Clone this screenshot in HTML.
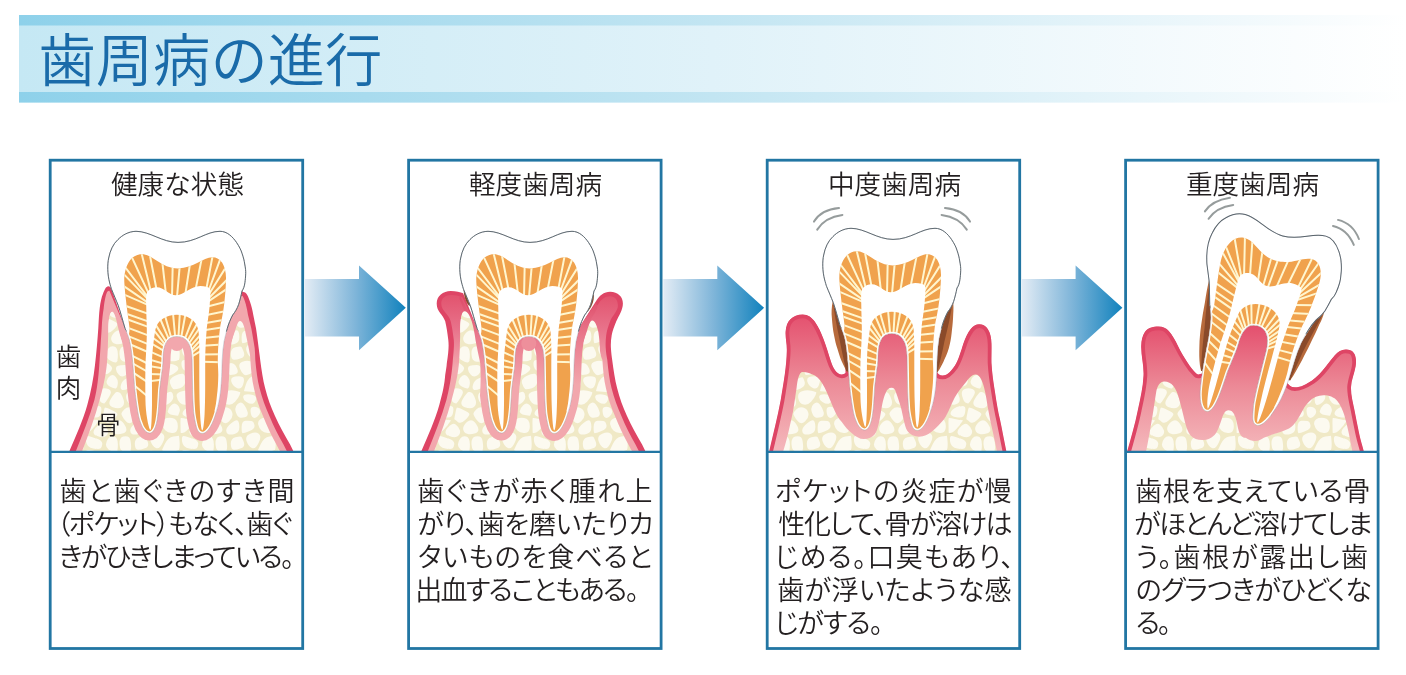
<!DOCTYPE html>
<html lang="ja"><head><meta charset="utf-8"><title>歯周病の進行</title>
<style>
html,body{margin:0;padding:0;background:#fff;}
body{width:1406px;height:675px;position:relative;overflow:hidden;font-family:"Liberation Sans", "Noto Sans CJK JP", sans-serif;}
</style></head><body>
<svg width="1406" height="675" viewBox="0 0 1406 675" style="position:absolute;left:0;top:0;will-change:transform">
<style>.t{font-family:"Liberation Sans","Noto Sans CJK JP",sans-serif;font-weight:350;fill:#231f20} .p{font-feature-settings:'palt'}</style>
<defs>
<linearGradient id="bn" x1="0" x2="1" y1="0" y2="0">
 <stop offset="0" stop-color="#c5e8f4"/><stop offset="0.5" stop-color="#e0f2f9"/><stop offset="1" stop-color="#ffffff"/>
</linearGradient>
<linearGradient id="bd" x1="0" x2="1" y1="0" y2="0">
 <stop offset="0" stop-color="#8ed1ea"/><stop offset="0.5" stop-color="#c2e5f2"/><stop offset="1" stop-color="#ffffff"/>
</linearGradient>
<linearGradient id="ar" x1="0" x2="1" y1="0" y2="0">
 <stop offset="0" stop-color="#e3ecf5"/><stop offset="0.5" stop-color="#7fb5d9"/><stop offset="1" stop-color="#1182bd"/>
</linearGradient>
<linearGradient id="g2" gradientUnits="userSpaceOnUse" x1="0" x2="0" y1="296" y2="368">
 <stop offset="0" stop-color="#e2546f"/><stop offset="0.45" stop-color="#e8728a"/><stop offset="1" stop-color="#f2a7ad"/></linearGradient>
<linearGradient id="g2p" gradientUnits="userSpaceOnUse" x1="0" x2="0" y1="296" y2="385">
 <stop offset="0" stop-color="#de4a68"/><stop offset="0.45" stop-color="#e9788c"/><stop offset="1" stop-color="#f2a7ad"/></linearGradient>
<linearGradient id="g3" gradientUnits="userSpaceOnUse" x1="0" x2="0" y1="314" y2="448">
 <stop offset="0" stop-color="#e4506e"/><stop offset="0.5" stop-color="#ec8a97"/><stop offset="1" stop-color="#f4b6ba"/></linearGradient>
<linearGradient id="g4" gradientUnits="userSpaceOnUse" x1="0" x2="0" y1="326" y2="448">
 <stop offset="0" stop-color="#e4506e"/><stop offset="0.5" stop-color="#ec8a97"/><stop offset="1" stop-color="#f4b6ba"/></linearGradient>
<clipPath id="ccrown"><path d="M90 220 H260 V300 L226 332 H127 L100 296 Z"/></clipPath>
<clipPath id="ct"><path d="M109.7 283 C107.3 274 107.3 264 108.7 258 C110 251 113 244 118 239.5 C122 235.5 128 231.5 136 231.3 C150 231.3 162 242.4 178 242.4 C196 242.4 206 231.3 220 231.3 C227 231.3 232.5 236.5 236.7 242.7 C239.5 247 241 250 242 253.3 C243.5 257.5 244.3 261 244.7 264 C245.5 268 245.8 271 245.7 273.3 C245.6 277 245.3 280 244.9 282.7 C244.5 286 243.5 289 242 291 C241 296 240 300 238.7 304.3 C237 309 235 312 232.7 315 C230.5 319 228.5 324 227.3 328.3 C226 333 225 337 224 341.7 C223 348 222.4 354 222.2 360 C221.8 372 221.5 382 220.7 389.4 C219.8 398 218.5 405 216.3 411.7 C214.5 418 212.5 423 210.4 426.5 C208 430.5 205.5 433.4 202.2 433.4 C199 433.4 197.3 430.5 196.3 426.5 C195 421 194 416 193.6 411.7 C193 404 192.7 396 192.6 389.4 C192.4 380 192.2 370 192.1 360 C192 345 187 336.4 176.8 336.4 C166.5 336.4 163 345 163 360 C162.8 366 162.2 370 161.5 374.6 C160.8 380 160.2 385 159.7 389.4 C159.2 397 158.9 405 158.2 411.7 C157.6 418 156.8 423 155.5 426.5 C154 430.5 152.5 433 149.6 433 C146.5 433 144 430 142.2 426.5 C140 422 138.6 417 137.8 411.7 C136.5 404 135.5 396 134.8 389.4 C134 380 133.3 370 132.5 360 C132 355 131.3 350 130.5 345 C129.3 338 127 333 125 328.3 C122.5 320 120.5 312 118.3 305.7 C116 300 113.5 294 111.7 289.7 C111 288 110.3 285 109.7 283 Z"/></clipPath>
<clipPath id="ce"><path d="M124.3 282 C124 266 131 254.3 141.8 254.3 C153 254.3 161 268.4 178 268.4 C194 268.4 203 257.3 212.3 257.3 C221 257.3 226.5 266 226 280 C225.7 290 225 297 224.2 304 C223 314 221.3 321 220 328 C218.5 340 217.8 350 217.8 361 C217.9 366 218.3 370 218.3 375 C218.2 383 217.7 390 217 395 C216.3 402 215.5 407 214.5 411 L235 440 L115 440 L115 352 C126 347 129.8 336 129.5 328 C128 315 125 296 124.3 282 Z"/></clipPath>
<clipPath id="cg1"><path d="M60 452 L108 291 L125 328 L227 328 L242 296 L300 452 Z"/></clipPath>
<pattern id="bone" width="96" height="90" patternUnits="userSpaceOnUse">
<rect width="96" height="90" fill="#f0e9c6"/>
<path d="M-9.4 -8.2Q-10.4 -13.8 -8.1 -13.6Q-5.8 -13.5 0.3 -11.4Q6.4 -9.4 6.2 -5.7Q6.0 -2.0 4.7 -1.2Q3.3 -0.4 -2.6 -1.5Q-8.5 -2.7 -9.4 -8.2ZM-10.4 6.1Q-11.7 3.3 -10.3 1.6Q-8.9 -0.2 -3.1 0.7Q2.7 1.6 1.0 5.3Q-0.7 9.1 -3.0 10.8Q-5.3 12.5 -7.2 10.7Q-9.1 8.9 -10.4 6.1ZM-21.8 23.3Q-23.6 19.1 -17.5 15.7Q-11.4 12.3 -9.3 13.7Q-7.2 15.1 -7.1 20.5Q-7.1 25.9 -12.2 27.9Q-17.4 29.9 -18.7 28.7Q-20.1 27.5 -21.8 23.3ZM-15.9 36.2Q-16.4 32.7 -11.0 31.0Q-5.7 29.4 -3.9 30.3Q-2.2 31.2 -0.5 37.0Q1.2 42.7 -4.1 44.8Q-9.5 46.9 -12.4 43.3Q-15.4 39.6 -15.9 36.2ZM-8.8 52.7Q-7.9 49.5 -3.2 47.6Q1.6 45.6 3.9 46.3Q6.3 46.9 5.0 52.9Q3.8 58.8 -2.9 57.3Q-9.6 55.9 -8.8 52.7ZM-11.4 65.6Q-11.3 58.7 -10.9 58.2Q-10.6 57.8 -3.7 59.1Q3.3 60.4 3.1 60.6Q3.0 60.8 -1.5 66.3Q-6.0 71.9 -8.5 72.4Q-10.9 72.9 -11.2 72.7Q-11.5 72.6 -11.4 65.6ZM-10.2 81.5Q-11.2 75.4 -8.5 75.9Q-5.8 76.5 0.5 78.5Q6.7 80.5 6.3 84.2Q5.8 87.9 4.4 88.6Q3.0 89.3 -3.1 88.5Q-9.2 87.7 -10.2 81.5ZM-10.2 96.4Q-10.9 93.4 -9.8 91.7Q-8.7 90.0 -2.9 90.8Q2.9 91.5 1.1 95.3Q-0.7 99.1 -3.0 100.8Q-5.3 102.4 -7.4 100.9Q-9.5 99.3 -10.2 96.4ZM9.6 -5.7Q9.3 -9.4 12.1 -11.4Q15.0 -13.4 18.4 -12.9Q21.8 -12.3 22.0 -5.4Q22.3 1.5 20.3 2.2Q18.4 3.0 14.2 0.5Q9.9 -2.0 9.6 -5.7ZM23.9 -5.1Q23.7 -11.7 27.6 -13.2Q31.5 -14.7 33.3 -13.1Q35.1 -11.5 35.4 -6.0Q35.8 -0.6 34.5 0.8Q33.2 2.1 28.7 1.8Q24.1 1.5 23.9 -5.1ZM38.8 -6.3Q38.1 -11.8 43.2 -13.0Q48.3 -14.2 49.3 -13.5Q50.3 -12.9 51.9 -8.1Q53.4 -3.3 49.1 -1.8Q44.7 -0.4 42.1 -0.6Q39.4 -0.8 38.8 -6.3ZM54.8 -9.0Q53.0 -13.8 58.5 -16.5Q63.9 -19.2 67.0 -16.6Q70.0 -14.0 66.8 -7.1Q63.6 -0.1 60.1 -2.2Q56.6 -4.2 54.8 -9.0ZM69.4 -5.8Q72.5 -12.2 77.5 -13.3Q82.5 -14.4 82.6 -14.0Q82.8 -13.6 83.0 -7.9Q83.2 -2.2 82.3 -0.3Q81.4 1.5 73.9 1.2Q66.3 0.9 66.3 0.8Q66.3 0.6 69.4 -5.8ZM86.3 -8.5Q85.1 -14.3 87.6 -14.0Q90.1 -13.8 96.3 -11.6Q102.4 -9.4 102.1 -5.7Q101.8 -2.1 100.5 -1.3Q99.1 -0.6 93.3 -1.6Q87.4 -2.6 86.3 -8.5ZM4.2 6.5Q5.6 2.3 6.8 1.7Q8.0 1.1 12.2 3.8Q16.4 6.5 16.1 8.8Q15.8 11.2 12.6 13.3Q9.4 15.5 6.0 13.1Q2.7 10.7 4.2 6.5ZM19.9 9.1Q19.7 6.6 22.0 5.8Q24.2 5.0 28.6 5.0Q33.0 4.9 32.7 9.4Q32.3 13.9 28.7 15.8Q25.0 17.7 22.6 14.6Q20.1 11.6 19.9 9.1ZM36.1 9.3Q35.6 4.8 37.1 3.6Q38.6 2.5 41.0 3.4Q43.5 4.3 45.3 8.9Q47.1 13.6 42.5 14.5Q37.8 15.4 37.2 14.6Q36.7 13.9 36.1 9.3ZM47.8 8.3Q45.9 3.4 50.4 1.7Q54.8 -0.1 58.4 1.2Q61.9 2.5 61.9 2.6Q62.0 2.7 61.9 7.4Q61.8 12.2 57.9 14.1Q54.0 16.0 51.8 14.6Q49.7 13.2 47.8 8.3ZM66.0 7.6Q66.3 2.9 73.6 3.8Q81.0 4.8 82.1 7.5Q83.3 10.3 77.6 13.7Q72.0 17.1 68.8 14.7Q65.7 12.3 66.0 7.6ZM85.8 6.4Q85.1 3.4 85.8 1.4Q86.5 -0.7 92.6 0.4Q98.7 1.6 97.1 5.5Q95.5 9.4 93.1 10.5Q90.8 11.7 88.6 10.5Q86.5 9.3 85.8 6.4ZM10.6 21.2Q11.3 17.8 14.3 15.8Q17.3 13.9 19.8 16.9Q22.3 19.9 21.8 23.8Q21.4 27.8 19.9 28.4Q18.4 29.0 14.2 26.8Q10.0 24.6 10.6 21.2ZM25.0 24.7Q26.1 20.5 30.0 18.7Q34.0 17.0 34.8 17.4Q35.7 17.9 36.7 22.0Q37.6 26.1 32.7 28.4Q27.7 30.7 25.8 29.8Q23.8 28.8 25.0 24.7ZM39.3 21.5Q38.3 17.4 43.2 16.6Q48.1 15.7 50.6 17.0Q53.1 18.2 51.2 24.2Q49.2 30.2 44.8 27.9Q40.4 25.6 39.3 21.5ZM53.7 24.9Q55.5 19.1 59.4 16.8Q63.4 14.6 66.6 17.2Q69.9 19.9 71.2 24.4Q72.5 29.0 68.8 30.7Q65.0 32.3 58.6 31.8Q52.1 31.3 52.0 31.0Q51.9 30.6 53.7 24.9ZM74.1 23.6Q72.6 19.1 78.5 16.1Q84.4 13.0 86.9 13.8Q89.5 14.6 89.4 20.5Q89.4 26.4 84.0 28.2Q78.6 30.0 77.1 29.0Q75.5 28.0 74.1 23.6ZM-4.3 20.7Q-4.3 14.7 -1.5 14.0Q1.3 13.3 4.5 15.4Q7.8 17.4 7.8 21.0Q7.9 24.6 3.7 26.2Q-0.5 27.9 -2.4 27.3Q-4.3 26.7 -4.3 20.7ZM2.2 36.2Q0.6 30.6 4.7 28.9Q8.9 27.3 12.9 29.2Q16.9 31.1 13.0 37.1Q9.1 43.2 8.4 43.4Q7.8 43.7 5.8 42.7Q3.7 41.7 2.2 36.2ZM14.9 38.7Q18.9 32.6 20.5 32.1Q22.1 31.6 23.8 32.7Q25.5 33.8 27.4 39.2Q29.3 44.5 26.0 47.0Q22.8 49.5 16.8 47.2Q10.9 44.8 14.9 38.7ZM30.3 38.4Q29.1 33.1 34.0 31.3Q38.8 29.6 43.4 30.8Q47.9 32.0 48.2 32.3Q48.6 32.7 47.4 35.5Q46.3 38.3 43.1 41.8Q40.0 45.3 35.7 44.6Q31.5 43.8 30.3 38.4ZM54.4 41.9Q50.6 39.4 51.2 36.5Q51.9 33.7 58.4 34.4Q64.9 35.1 64.1 39.1Q63.3 43.0 60.7 43.7Q58.1 44.4 54.4 41.9ZM66.6 39.5Q66.7 35.5 70.2 33.4Q73.7 31.2 75.4 32.0Q77.0 32.8 77.3 36.4Q77.5 40.1 73.7 43.0Q69.8 46.0 68.2 44.7Q66.6 43.4 66.6 39.5ZM80.6 36.3Q80.1 33.0 85.1 31.6Q90.2 30.1 91.9 30.8Q93.6 31.5 95.3 37.1Q97.1 42.6 92.0 44.2Q86.8 45.8 83.9 42.7Q81.1 39.6 80.6 36.3ZM7.3 53.4Q8.4 47.6 9.0 47.5Q9.7 47.3 15.5 49.9Q21.3 52.5 21.4 54.1Q21.6 55.8 17.2 60.1Q12.8 64.5 9.8 61.9Q6.7 59.3 6.4 59.2Q6.1 59.2 7.3 53.4ZM29.2 60.6Q25.6 55.8 25.4 54.0Q25.2 52.3 28.2 49.4Q31.1 46.6 35.1 47.6Q39.1 48.5 40.3 52.8Q41.5 57.1 37.2 61.3Q32.8 65.5 29.2 60.6ZM43.7 51.7Q42.2 47.3 45.6 44.0Q49.0 40.7 51.9 44.4Q54.8 48.0 55.7 52.2Q56.5 56.5 52.8 57.3Q49.1 58.2 47.1 57.2Q45.1 56.2 43.7 51.7ZM58.6 51.7Q58.1 47.1 61.0 46.9Q64.0 46.7 66.0 47.7Q68.0 48.8 68.2 51.4Q68.4 53.9 65.8 56.3Q63.1 58.7 61.1 57.5Q59.0 56.3 58.6 51.7ZM71.7 51.2Q71.8 48.6 75.2 45.3Q78.5 41.9 81.6 45.1Q84.8 48.3 83.6 51.7Q82.4 55.0 82.2 55.6Q82.1 56.2 76.8 55.0Q71.5 53.7 71.7 51.2ZM86.6 52.7Q87.7 49.2 92.8 47.0Q98.0 44.8 99.9 46.0Q101.9 47.2 100.7 52.8Q99.4 58.4 92.5 57.3Q85.6 56.1 86.6 52.7ZM-0.2 67.8Q4.5 62.3 7.7 64.5Q10.8 66.8 11.9 70.3Q12.9 73.7 10.1 76.1Q7.3 78.4 1.2 75.9Q-4.9 73.3 -0.2 67.8ZM18.9 62.1Q23.3 58.1 26.8 62.3Q30.3 66.6 30.4 69.4Q30.6 72.3 26.5 73.5Q22.4 74.8 19.1 73.7Q15.8 72.7 15.2 69.4Q14.6 66.1 18.9 62.1ZM34.3 69.8Q34.7 66.9 39.2 63.2Q43.7 59.5 45.5 60.4Q47.3 61.4 47.4 67.1Q47.4 72.9 42.6 74.0Q37.9 75.2 35.8 73.9Q33.8 72.6 34.3 69.8ZM49.6 67.2Q49.7 61.2 53.4 60.8Q57.1 60.4 59.5 61.0Q61.9 61.6 62.5 65.3Q63.2 69.0 57.6 71.1Q52.0 73.3 50.8 73.3Q49.5 73.3 49.6 67.2ZM66.2 64.6Q65.5 61.3 68.2 59.2Q71.0 57.2 76.2 57.9Q81.5 58.6 81.8 65.7Q82.2 72.7 77.0 73.0Q71.9 73.4 69.4 70.6Q66.9 67.9 66.2 64.6ZM84.5 65.4Q84.3 58.4 84.9 58.1Q85.4 57.8 92.2 59.2Q98.9 60.5 99.0 60.6Q99.1 60.7 94.5 66.6Q89.8 72.5 87.3 72.8Q84.8 73.2 84.7 72.8Q84.6 72.4 84.5 65.4ZM9.9 84.5Q10.0 81.1 12.3 78.4Q14.6 75.6 18.2 76.6Q21.8 77.6 21.9 84.3Q22.0 91.1 20.2 92.2Q18.4 93.3 14.0 90.7Q9.7 88.0 9.9 84.5ZM23.5 84.5Q23.1 77.3 27.2 76.4Q31.4 75.6 33.0 77.3Q34.6 79.0 35.0 84.1Q35.5 89.3 34.2 90.6Q33.0 91.9 28.5 91.8Q24.0 91.8 23.5 84.5ZM38.8 84.0Q38.6 78.5 43.4 77.2Q48.3 75.9 49.2 76.7Q50.1 77.4 51.8 82.1Q53.5 86.7 49.0 88.3Q44.6 89.9 41.8 89.8Q38.9 89.6 38.8 84.0ZM54.6 81.2Q52.8 76.1 58.2 73.8Q63.6 71.4 66.8 73.7Q70.0 76.0 66.7 82.7Q63.5 89.5 59.9 87.9Q56.4 86.2 54.6 81.2ZM68.8 84.0Q72.1 77.0 77.2 76.4Q82.4 75.9 82.8 75.7Q83.2 75.6 83.6 81.8Q84.0 88.0 82.9 89.9Q81.7 91.8 73.6 91.5Q65.6 91.2 65.5 91.1Q65.5 91.0 68.8 84.0ZM86.1 81.7Q85.3 75.9 87.7 76.1Q90.2 76.3 95.9 78.6Q101.7 80.9 102.0 84.5Q102.2 88.1 100.8 88.9Q99.4 89.6 93.2 88.6Q87.0 87.6 86.1 81.7ZM4.3 96.7Q5.8 92.7 6.8 91.6Q7.9 90.5 12.0 93.6Q16.1 96.6 16.1 98.9Q16.1 101.2 12.7 103.3Q9.4 105.4 6.1 103.0Q2.9 100.7 4.3 96.7ZM19.8 99.0Q19.6 96.5 21.9 95.7Q24.1 95.0 28.6 95.0Q33.0 95.0 32.6 99.4Q32.2 103.9 28.6 105.8Q24.9 107.8 22.4 104.7Q19.9 101.6 19.8 99.0ZM35.7 99.5Q35.5 94.7 37.1 93.6Q38.6 92.4 41.1 93.0Q43.6 93.7 45.4 98.7Q47.2 103.7 42.6 104.4Q38.0 105.2 36.9 104.7Q35.8 104.2 35.7 99.5ZM47.5 98.1Q45.2 92.9 50.1 91.2Q55.0 89.6 58.6 91.0Q62.1 92.4 62.5 92.3Q62.9 92.3 62.2 97.2Q61.5 102.0 57.7 104.0Q53.9 105.9 51.8 104.6Q49.7 103.3 47.5 98.1ZM65.6 97.7Q66.1 92.8 74.0 93.4Q81.8 94.1 82.8 97.2Q83.7 100.4 77.8 103.8Q71.9 107.2 68.5 104.9Q65.1 102.5 65.6 97.7ZM86.0 96.2Q85.3 93.4 86.1 91.5Q86.8 89.6 93.1 90.5Q99.3 91.4 97.3 95.3Q95.3 99.1 93.0 100.8Q90.7 102.5 88.7 100.8Q86.7 99.1 86.0 96.2ZM99.8 6.4Q101.5 2.0 102.7 1.1Q103.8 0.1 108.0 3.4Q112.1 6.6 111.9 8.9Q111.7 11.1 108.5 13.2Q105.4 15.2 101.8 13.0Q98.1 10.8 99.8 6.4ZM92.3 20.9Q92.7 15.3 94.9 14.2Q97.2 13.1 100.2 15.4Q103.2 17.6 103.5 21.1Q103.8 24.5 99.6 26.2Q95.5 27.8 93.7 27.1Q91.9 26.4 92.3 20.9ZM97.9 36.2Q96.2 30.4 100.5 28.9Q104.9 27.3 108.9 29.2Q112.9 31.1 109.0 37.5Q105.0 44.0 104.4 44.1Q103.7 44.2 101.6 43.1Q99.5 42.0 97.9 36.2ZM103.7 53.5Q104.6 48.1 105.2 47.9Q105.8 47.7 111.6 50.1Q117.5 52.4 117.6 54.1Q117.7 55.7 113.3 59.7Q108.9 63.7 105.8 61.5Q102.7 59.3 102.7 59.1Q102.7 59.0 103.7 53.5ZM95.6 67.8Q100.6 62.1 103.6 64.4Q106.6 66.8 107.6 70.2Q108.5 73.5 106.0 76.1Q103.4 78.6 97.0 76.1Q90.6 73.6 95.6 67.8ZM99.8 96.5Q101.6 92.2 102.7 91.1Q103.8 90.0 108.0 93.3Q112.2 96.6 112.0 98.9Q111.9 101.2 108.6 102.8Q105.3 104.5 101.7 102.7Q98.0 100.8 99.8 96.5Z" fill="#fcfaf0"/>
</pattern>

<g id="tooth">
  <path d="M109.7 283 C107.3 274 107.3 264 108.7 258 C110 251 113 244 118 239.5 C122 235.5 128 231.5 136 231.3 C150 231.3 162 242.4 178 242.4 C196 242.4 206 231.3 220 231.3 C227 231.3 232.5 236.5 236.7 242.7 C239.5 247 241 250 242 253.3 C243.5 257.5 244.3 261 244.7 264 C245.5 268 245.8 271 245.7 273.3 C245.6 277 245.3 280 244.9 282.7 C244.5 286 243.5 289 242 291 C241 296 240 300 238.7 304.3 C237 309 235 312 232.7 315 C230.5 319 228.5 324 227.3 328.3 C226 333 225 337 224 341.7 C223 348 222.4 354 222.2 360 C221.8 372 221.5 382 220.7 389.4 C219.8 398 218.5 405 216.3 411.7 C214.5 418 212.5 423 210.4 426.5 C208 430.5 205.5 433.4 202.2 433.4 C199 433.4 197.3 430.5 196.3 426.5 C195 421 194 416 193.6 411.7 C193 404 192.7 396 192.6 389.4 C192.4 380 192.2 370 192.1 360 C192 345 187 336.4 176.8 336.4 C166.5 336.4 163 345 163 360 C162.8 366 162.2 370 161.5 374.6 C160.8 380 160.2 385 159.7 389.4 C159.2 397 158.9 405 158.2 411.7 C157.6 418 156.8 423 155.5 426.5 C154 430.5 152.5 433 149.6 433 C146.5 433 144 430 142.2 426.5 C140 422 138.6 417 137.8 411.7 C136.5 404 135.5 396 134.8 389.4 C134 380 133.3 370 132.5 360 C132 355 131.3 350 130.5 345 C129.3 338 127 333 125 328.3 C122.5 320 120.5 312 118.3 305.7 C116 300 113.5 294 111.7 289.7 C111 288 110.3 285 109.7 283 Z" fill="#fff"/>
  <g clip-path="url(#ct)">
    <g clip-path="url(#ce)">
      <rect x="100" y="240" width="150" height="200" fill="#f0a24d"/>
      <path d="M147.7 396.4L133.6 384.7M147.9 382.4L132.1 371.9M148.2 372.2L131.2 362.5M148.5 364.0L130.4 354.9M149.0 352.5L129.3 344.0M149.3 344.6L128.3 336.1M149.5 335.9L126.8 327.4M149.6 327.4L125.6 318.8M149.4 321.9L124.9 313.2M149.2 314.1L123.9 305.3M149.0 305.4L122.6 293.9M148.6 303.1L122.1 285.0M148.3 299.6L122.6 272.9M148.2 297.6L124.3 266.0M148.9 294.1L131.0 255.4M151.0 291.9L141.1 251.4M156.7 290.2L149.6 253.8M165.9 293.6L162.2 261.2M172.0 297.5L172.7 264.9M176.9 298.2L179.8 265.4M185.3 294.4L190.1 263.4M195.6 289.4L201.8 258.1M206.2 289.6L212.9 254.4M208.5 291.0L220.9 257.3M208.8 294.5L226.5 266.3M208.2 298.8L228.1 278.6M207.6 301.8L228.0 288.1M206.6 306.8L227.2 301.4M205.5 315.3L226.2 310.9M204.5 323.3L224.6 319.7M203.8 330.2L223.0 327.2M203.3 338.0L222.4 335.9M203.0 345.8L221.9 344.5M202.5 354.4L221.3 354.2M202.2 361.7L220.8 362.3M189.5 357.8L201.9 350.3M189.7 354.6L201.5 344.5M189.8 351.7L201.1 339.5M188.2 348.9L200.9 334.3M187.1 346.0L200.0 327.5M185.8 343.8L197.9 322.2M183.8 341.7L193.4 317.1M180.7 340.0L185.6 313.1M178.3 339.5L179.9 312.0M175.4 339.5L172.9 312.0M172.0 340.4L164.6 314.3M170.0 341.8L159.6 317.5M168.0 344.4L154.9 323.6M167.0 346.9L153.1 329.4M166.2 347.6L152.1 337.2M166.0 352.2L151.1 343.4M165.7 358.3L150.0 351.7M165.3 364.1L149.2 359.5M164.9 368.8L149.0 366.1M164.3 374.5L149.0 373.9M163.6 379.6L149.0 381.2" fill="none" stroke="#fff6cf" stroke-width="2"/>
    </g>
    <path d="M146.2 304 C146 297 146.3 292.5 148 291 C150 288.5 153 287.2 156.7 287.2 C164 287.2 169 295.3 175.8 295.3 C183 295.3 191 285.9 200.3 285.9 C205 285.9 208.5 286.8 209.8 288.5 C211 290.5 210.2 297 209.8 304 C209 314 207.5 322 206.8 328 C205.8 340 205.3 350 205.2 361 C205.2 380 205.4 400 204.6 414 C204.2 422 203.3 430.5 202.3 430.5 C201.2 430.5 200.2 420 199.7 405 C199.3 390 199.3 372 199.3 361 C199.5 350 199.3 338 198.4 330.4 C196.5 320 187 314.8 176.8 314.8 C166.5 314.8 157 320 155.2 330.4 C153.8 340 152.3 350 152 361 C151.8 380 152.2 395 152 405 C151.8 418 151.3 430 150.4 430 C149.3 430 146.3 418 145.6 405 C145.2 390 145.2 372 145.6 361 C146.3 350 147 338 146.8 328 C146.5 320 146.3 312 146.2 304 Z" fill="#fff"/>
    <path d="M109.7 283 C107.3 274 107.3 264 108.7 258 C110 251 113 244 118 239.5 C122 235.5 128 231.5 136 231.3 C150 231.3 162 242.4 178 242.4 C196 242.4 206 231.3 220 231.3 C227 231.3 232.5 236.5 236.7 242.7 C239.5 247 241 250 242 253.3 C243.5 257.5 244.3 261 244.7 264 C245.5 268 245.8 271 245.7 273.3 C245.6 277 245.3 280 244.9 282.7 C244.5 286 243.5 289 242 291 C241 296 240 300 238.7 304.3 C237 309 235 312 232.7 315 C230.5 319 228.5 324 227.3 328.3 C226 333 225 337 224 341.7 C223 348 222.4 354 222.2 360 C221.8 372 221.5 382 220.7 389.4 C219.8 398 218.5 405 216.3 411.7 C214.5 418 212.5 423 210.4 426.5 C208 430.5 205.5 433.4 202.2 433.4 C199 433.4 197.3 430.5 196.3 426.5 C195 421 194 416 193.6 411.7 C193 404 192.7 396 192.6 389.4 C192.4 380 192.2 370 192.1 360 C192 345 187 336.4 176.8 336.4 C166.5 336.4 163 345 163 360 C162.8 366 162.2 370 161.5 374.6 C160.8 380 160.2 385 159.7 389.4 C159.2 397 158.9 405 158.2 411.7 C157.6 418 156.8 423 155.5 426.5 C154 430.5 152.5 433 149.6 433 C146.5 433 144 430 142.2 426.5 C140 422 138.6 417 137.8 411.7 C136.5 404 135.5 396 134.8 389.4 C134 380 133.3 370 132.5 360 C132 355 131.3 350 130.5 345 C129.3 338 127 333 125 328.3 C122.5 320 120.5 312 118.3 305.7 C116 300 113.5 294 111.7 289.7 C111 288 110.3 285 109.7 283 Z" fill="none" stroke="#fff" stroke-width="3.2"/>
  </g>
  <path d="M109.7 283 C107.3 274 107.3 264 108.7 258 C110 251 113 244 118 239.5 C122 235.5 128 231.5 136 231.3 C150 231.3 162 242.4 178 242.4 C196 242.4 206 231.3 220 231.3 C227 231.3 232.5 236.5 236.7 242.7 C239.5 247 241 250 242 253.3 C243.5 257.5 244.3 261 244.7 264 C245.5 268 245.8 271 245.7 273.3 C245.6 277 245.3 280 244.9 282.7 C244.5 286 243.5 289 242 291 C241 296 240 300 238.7 304.3 C237 309 235 312 232.7 315 C230.5 319 228.5 324 227.3 328.3 C226 333 225 337 224 341.7 C223 348 222.4 354 222.2 360 C221.8 372 221.5 382 220.7 389.4 C219.8 398 218.5 405 216.3 411.7 C214.5 418 212.5 423 210.4 426.5 C208 430.5 205.5 433.4 202.2 433.4 C199 433.4 197.3 430.5 196.3 426.5 C195 421 194 416 193.6 411.7 C193 404 192.7 396 192.6 389.4 C192.4 380 192.2 370 192.1 360 C192 345 187 336.4 176.8 336.4 C166.5 336.4 163 345 163 360 C162.8 366 162.2 370 161.5 374.6 C160.8 380 160.2 385 159.7 389.4 C159.2 397 158.9 405 158.2 411.7 C157.6 418 156.8 423 155.5 426.5 C154 430.5 152.5 433 149.6 433 C146.5 433 144 430 142.2 426.5 C140 422 138.6 417 137.8 411.7 C136.5 404 135.5 396 134.8 389.4 C134 380 133.3 370 132.5 360 C132 355 131.3 350 130.5 345 C129.3 338 127 333 125 328.3 C122.5 320 120.5 312 118.3 305.7 C116 300 113.5 294 111.7 289.7 C111 288 110.3 285 109.7 283 Z" fill="none" stroke="#8d8f9c" stroke-opacity="0.45" stroke-width="0.8"/>
  <path d="M109.7 283 C107.3 274 107.3 264 108.7 258 C110 251 113 244 118 239.5 C122 235.5 128 231.5 136 231.3 C150 231.3 162 242.4 178 242.4 C196 242.4 206 231.3 220 231.3 C227 231.3 232.5 236.5 236.7 242.7 C239.5 247 241 250 242 253.3 C243.5 257.5 244.3 261 244.7 264 C245.5 268 245.8 271 245.7 273.3 C245.6 277 245.3 280 244.9 282.7 C244.5 286 243.5 289 242 291 C241 296 240 300 238.7 304.3 C237 309 235 312 232.7 315 C230.5 319 228.5 324 227.3 328.3 C226 333 225 337 224 341.7 C223 348 222.4 354 222.2 360 C221.8 372 221.5 382 220.7 389.4 C219.8 398 218.5 405 216.3 411.7 C214.5 418 212.5 423 210.4 426.5 C208 430.5 205.5 433.4 202.2 433.4 C199 433.4 197.3 430.5 196.3 426.5 C195 421 194 416 193.6 411.7 C193 404 192.7 396 192.6 389.4 C192.4 380 192.2 370 192.1 360 C192 345 187 336.4 176.8 336.4 C166.5 336.4 163 345 163 360 C162.8 366 162.2 370 161.5 374.6 C160.8 380 160.2 385 159.7 389.4 C159.2 397 158.9 405 158.2 411.7 C157.6 418 156.8 423 155.5 426.5 C154 430.5 152.5 433 149.6 433 C146.5 433 144 430 142.2 426.5 C140 422 138.6 417 137.8 411.7 C136.5 404 135.5 396 134.8 389.4 C134 380 133.3 370 132.5 360 C132 355 131.3 350 130.5 345 C129.3 338 127 333 125 328.3 C122.5 320 120.5 312 118.3 305.7 C116 300 113.5 294 111.7 289.7 C111 288 110.3 285 109.7 283 Z" fill="none" stroke="#59646c" stroke-width="0.95" clip-path="url(#ccrown)"/>
</g>
<path id="arrow" d="M305 279 H359 V265.5 L405.8 307.8 L359 350.2 V336.5 H305 Z" fill="url(#ar)"/>
</defs>
<rect width="1406" height="675" fill="#fff"/>
<rect x="19" y="15" width="1387" height="87.5" fill="url(#bn)"/>
<rect x="19" y="15" width="1387" height="10.5" fill="url(#bd)"/>
<rect x="19" y="92" width="1387" height="10.5" fill="url(#bd)"/>
<text x="38.5" y="81.3" font-family='"Liberation Sans", "Noto Sans CJK JP", sans-serif' font-size="57.3" font-weight="350" fill="#1a6ba9">歯周病の進行</text>


<path d="M69 452 C76 436 83 420 87.3 405 C91 392 93.5 378 95 365 C96.5 352 97.5 340 98.3 328.3 C98.8 320 99 314 99.7 308.3 C100.5 302 101.5 297 103 293.7 C104.5 290 106 286.3 108.3 286.3 C110 286.3 111 288 111.7 289.7 L125 328 L227 328 L242 291 C242.5 291.5 243 292 243.3 292 C246.5 292 248.5 297 250 301.7 C251.5 306 252.5 310 253.3 315 C254.3 320 255.2 324 256 328.3 C257 335 258 342 258.7 348.3 C259.3 353 259.9 357 260.2 360 C261.5 370 263 380 265.1 388 C267.5 398 271 407 275 416 C279.5 426 285 436 290.1 444.5 L293.8 452 Z" fill="#de4565"/>
<path d="M75.5 452 C82.5 435 89.5 417 94.4 400 C97 390 98.5 377 99.3 365 C99.8 358 100.3 350 100.6 345 C101 339 101.4 333 101.7 328.3 C102 320 102.8 314 103.7 308.3 C104.3 303 105.3 296 107 292.3 C107.8 291 108.8 290.5 109.5 291 L125 328 L227 328 L241.5 295.5 C242 295.5 242.5 296 242.7 296.3 C245 300 247 308 248 315 C249.3 320 250.3 324 251.3 328.3 C252.5 335 253.8 342 254.7 348.3 C255 352 255.2 356 255.3 360 C256.2 370 257.5 380 259.5 388 C262 398 265.5 407 269.4 416 C273.5 426 278.5 436 283.5 444.5 L287.3 452 Z" fill="#f2a7ad"/>
<path d="M81.8 452 C88.5 435 95 417 99.6 400 C102.5 390 105.5 377 106.8 365 C107.3 358 107.7 352 107.9 345 C108.1 339 108.2 333 108.3 328 C108.5 320 109.5 311.7 112.3 311.7 C115 311.7 117 318 119 326 L125 345 L230 345 L235 331 C236.5 326 238 321 240 321 C243 321 244.8 328 246 335 C247.5 342 249 349 250 355 C250.2 357 250.3 358.5 250.4 360 C251 370 252 380 253.9 388 C256 398 259 407 263 416 C267 426 271.5 436 276.4 444.5 L280.3 452 Z" fill="url(#bone)"/>
<g clip-path="url(#cg1)"><path d="M109.7 283 C107.3 274 107.3 264 108.7 258 C110 251 113 244 118 239.5 C122 235.5 128 231.5 136 231.3 C150 231.3 162 242.4 178 242.4 C196 242.4 206 231.3 220 231.3 C227 231.3 232.5 236.5 236.7 242.7 C239.5 247 241 250 242 253.3 C243.5 257.5 244.3 261 244.7 264 C245.5 268 245.8 271 245.7 273.3 C245.6 277 245.3 280 244.9 282.7 C244.5 286 243.5 289 242 291 C241 296 240 300 238.7 304.3 C237 309 235 312 232.7 315 C230.5 319 228.5 324 227.3 328.3 C226 333 225 337 224 341.7 C223 348 222.4 354 222.2 360 C221.8 372 221.5 382 220.7 389.4 C219.8 398 218.5 405 216.3 411.7 C214.5 418 212.5 423 210.4 426.5 C208 430.5 205.5 433.4 202.2 433.4 C199 433.4 197.3 430.5 196.3 426.5 C195 421 194 416 193.6 411.7 C193 404 192.7 396 192.6 389.4 C192.4 380 192.2 370 192.1 360 C192 345 187 336.4 176.8 336.4 C166.5 336.4 163 345 163 360 C162.8 366 162.2 370 161.5 374.6 C160.8 380 160.2 385 159.7 389.4 C159.2 397 158.9 405 158.2 411.7 C157.6 418 156.8 423 155.5 426.5 C154 430.5 152.5 433 149.6 433 C146.5 433 144 430 142.2 426.5 C140 422 138.6 417 137.8 411.7 C136.5 404 135.5 396 134.8 389.4 C134 380 133.3 370 132.5 360 C132 355 131.3 350 130.5 345 C129.3 338 127 333 125 328.3 C122.5 320 120.5 312 118.3 305.7 C116 300 113.5 294 111.7 289.7 C111 288 110.3 285 109.7 283 Z" fill="none" stroke="#f2a7ad" stroke-width="15" stroke-linejoin="round"/>
<ellipse cx="176.8" cy="343.5" rx="7.5" ry="7.5" fill="#f2a7ad"/></g>
<path d="M108.5 330 C108.5 320 109.5 311.7 112.3 311.7 C114.5 311.7 116.5 320 118.3 328.3 C119.5 333 120.5 337 121.2 340 C122.2 345 123 350 123.7 355 L124.5 362 L112 362 Z" fill="url(#bone)"/>

<use href="#tooth"/>

<g transform="translate(352,0)">
<path d="M69 452 C76 436 83 420 87.3 405 C91 392 92.5 384 93.2 375 C94 370 94.6 367 94.8 363.3 C96.5 352 97 346 96.3 340 C95.5 333 94.5 327 93.2 321.3 C91 314 84.7 312 84.7 303.4 C84.7 296 91 291 98.7 291 C104 291 108.5 292 111.1 293.3 L125 328 L227 328 L244.1 301.1 C247 296 252 291.8 258.1 291.8 C266 291.8 270.9 297 270.9 303.4 C270.9 310 266.5 316 264.3 321.3 C262 327 260.5 331 259.7 335.3 C258.9 340 258.7 344 258.9 347.8 C259.2 353 259.8 357 260.2 360 C261.5 370 263 380 265.1 388 C267.5 398 271 407 275 416 C279.5 426 285 436 290.1 444.5 L293.8 452 Z" fill="#de4565"/>
<path d="M75.5 452 C82.5 435 89.5 417 94.4 400 C97 390 99.5 377 100.6 363.3 C101.5 352 102.3 346 101.8 340 C101 333 100 327 98.7 321.3 C97 314 89.3 311 89.3 303.4 C89.3 298 94 295 99 295 C104 295 108 296 110.5 297.5 L125 328 L227 328 L246 304.5 C249 299.5 253 296.3 258 296.3 C263 296.3 265.9 300 265.9 305.8 C265.9 311 260 316 258.1 321.3 C256 327 254.8 331 254.2 335.3 C253.6 340 253.5 344 253.7 347.8 C254 353 254.8 357 255.3 360 C256.2 370 257.5 380 259.5 388 C262 398 265.5 407 269.4 416 C273.5 426 278.5 436 283.5 444.5 L287.3 452 Z" fill="url(#g2)"/>
<path d="M81.8 452 C88.5 435 95 417 99.6 400 C102.5 390 105.5 377 106.8 365 C107.3 358 107.7 352 107.9 345 C108.1 339 108.2 333 108.2 328 C108.3 320 109.5 311.2 112.7 311.2 C115.5 311.2 117.5 318 119.5 326 L125 345 L230 345 L235 331 C236.5 326 238 320.5 240.2 320.5 C243 320.5 245 326 246.4 332.2 C247.3 338 247.8 345 248 351 C248.5 355 249.5 358 250.4 360 C251 370 252 380 253.9 388 C256 398 259 407 263 416 C267 426 271.5 436 276.4 444.5 L280.3 452 Z" fill="url(#bone)"/>
<clipPath id="cg2"><path d="M60 452 L108 296 L125 328 L227 328 L244 303 L300 452 Z"/></clipPath>
<g clip-path="url(#cg2)"><path d="M109.7 283 C107.3 274 107.3 264 108.7 258 C110 251 113 244 118 239.5 C122 235.5 128 231.5 136 231.3 C150 231.3 162 242.4 178 242.4 C196 242.4 206 231.3 220 231.3 C227 231.3 232.5 236.5 236.7 242.7 C239.5 247 241 250 242 253.3 C243.5 257.5 244.3 261 244.7 264 C245.5 268 245.8 271 245.7 273.3 C245.6 277 245.3 280 244.9 282.7 C244.5 286 243.5 289 242 291 C241 296 240 300 238.7 304.3 C237 309 235 312 232.7 315 C230.5 319 228.5 324 227.3 328.3 C226 333 225 337 224 341.7 C223 348 222.4 354 222.2 360 C221.8 372 221.5 382 220.7 389.4 C219.8 398 218.5 405 216.3 411.7 C214.5 418 212.5 423 210.4 426.5 C208 430.5 205.5 433.4 202.2 433.4 C199 433.4 197.3 430.5 196.3 426.5 C195 421 194 416 193.6 411.7 C193 404 192.7 396 192.6 389.4 C192.4 380 192.2 370 192.1 360 C192 345 187 336.4 176.8 336.4 C166.5 336.4 163 345 163 360 C162.8 366 162.2 370 161.5 374.6 C160.8 380 160.2 385 159.7 389.4 C159.2 397 158.9 405 158.2 411.7 C157.6 418 156.8 423 155.5 426.5 C154 430.5 152.5 433 149.6 433 C146.5 433 144 430 142.2 426.5 C140 422 138.6 417 137.8 411.7 C136.5 404 135.5 396 134.8 389.4 C134 380 133.3 370 132.5 360 C132 355 131.3 350 130.5 345 C129.3 338 127 333 125 328.3 C122.5 320 120.5 312 118.3 305.7 C116 300 113.5 294 111.7 289.7 C111 288 110.3 285 109.7 283 Z" fill="none" stroke="url(#g2p)" stroke-width="15" stroke-linejoin="round"/>
<ellipse cx="176.8" cy="343.5" rx="7.5" ry="7.5" fill="#ee8f9b"/></g>
<path d="M108.3 330 C108.3 320 109.5 311.2 112.7 311.2 C116 311.2 118 316.5 119.7 321.3 C121.5 327 122.7 334 123.5 340 C125 348 126.8 356 128.2 363 C128.6 369 128.8 375 128.6 380 C128.5 386 128.3 391 128 395 L115 395 Z" fill="url(#bone)"/>
<path d="M111.8 288 C111.5 292 112.2 297 114 301 C115 303.5 116.3 305 117.5 306 L119 302 L113 287 Z" fill="#8a4a2a"/>
<path d="M241.5 293 C242.5 297 241.5 302 239.5 306 C238 309 236 311.5 234 313 L233 309 L240.5 292 Z" fill="#8a4a2a"/>
<use href="#tooth"/>
</g>


<clipPath id="cg3"><path d="M769 452 C773 435 777.5 417 780.7 400 C784 380 786.5 366 786.8 351 C787 343 785.2 338 785.6 331.6 C786 326 787.5 322 790.4 319.3 C793.5 316 797.5 314.4 802.7 314.4 C808 314.4 812 317.5 814.9 321.8 C818.5 327 821 332.5 823.5 338.9 C826.5 346.5 828.5 354 830.8 360.9 C833 367.5 836.5 374.4 841.8 374.4 C843.5 374.4 844.5 373.8 845.5 373 L846 300 L940 300 L936.5 370.7 C937.5 373.5 939.5 375.6 942.6 375.6 C947.5 375.6 951.5 370.5 954.8 365.8 C958.5 360 961 351 963.3 343.8 C965.5 337.5 968 332.5 970.7 329.1 C973 326 976 324.2 979.2 324.2 C983 324.2 986 326 987.8 329.1 C990.5 333.5 991.3 338 991.5 343.8 C991.7 350 991.3 357 991.5 363.3 C992 373 993.5 383 995.1 392.7 C996.5 402 998 411 1000 419.6 C1002 429 1004 440 1006.5 452 L1007.5 458 L768 458 Z"/></clipPath>
<clipPath id="cb3"><rect x="767" y="160" width="253" height="292"/></clipPath>
<g clip-path="url(#cb3)">
<g clip-path="url(#cg3)"><path d="M769 452 C773 435 777.5 417 780.7 400 C784 380 786.5 366 786.8 351 C787 343 785.2 338 785.6 331.6 C786 326 787.5 322 790.4 319.3 C793.5 316 797.5 314.4 802.7 314.4 C808 314.4 812 317.5 814.9 321.8 C818.5 327 821 332.5 823.5 338.9 C826.5 346.5 828.5 354 830.8 360.9 C833 367.5 836.5 374.4 841.8 374.4 C843.5 374.4 844.5 373.8 845.5 373 L846 300 L940 300 L936.5 370.7 C937.5 373.5 939.5 375.6 942.6 375.6 C947.5 375.6 951.5 370.5 954.8 365.8 C958.5 360 961 351 963.3 343.8 C965.5 337.5 968 332.5 970.7 329.1 C973 326 976 324.2 979.2 324.2 C983 324.2 986 326 987.8 329.1 C990.5 333.5 991.3 338 991.5 343.8 C991.7 350 991.3 357 991.5 363.3 C992 373 993.5 383 995.1 392.7 C996.5 402 998 411 1000 419.6 C1002 429 1004 440 1006.5 452 L1007.5 458 L768 458 Z" fill="url(#g3)" stroke="#de4565" stroke-width="7.5" stroke-linejoin="round"/></g>
<path d="M783 452 C787 440 790 425 792.9 412 C794.5 403 795.5 395 796.6 387.8 C797.5 380 799 372 802.7 372 C807 372 811 373.5 814.9 375.6 C819 378 822 382.5 824.7 387.8 C828 394.5 830.5 401 833.2 407.4 C836 414 838.5 418.5 841.8 422 C845 426.5 848 430.5 851.6 433 C855.5 436.5 859.5 439.1 863.8 439.1 C868.5 439.1 872.5 437.5 874.8 434.3 C878 430 879.5 420 880.9 412.2 C882.3 404 883.5 397 885.8 392.7 C887 389.5 889 387.8 891.5 387.8 C894 387.8 895.2 389.5 896.1 392.7 C898 398 899.5 402.5 901 407.4 C903 416 904.5 425 907.1 430.6 C910 435 914.5 436.7 919.3 436.7 C924 436.7 928 434.5 931.6 431.8 C936 428.5 940 424 943.8 419.6 C947 415 949.5 409 952.3 402.5 C955.5 395.5 959 390 963.3 385.4 C967 381 971 374.4 975.6 374.4 C980 374.4 982.5 381 984.1 387.8 C985.8 394 986.8 401 987.8 407.4 C989.5 417 991.5 427 993.9 436.7 C995 442 996 447 997 452 Z" fill="url(#bone)"/>
<g transform="translate(715,-3)">
<path d="M117.8 304 C116.5 310 116.3 316 116.9 321.2 C117.3 327 118 333 119 338 C120 343 121 348 122.5 352 C124 357.5 126 363 128.2 367.6 C129.3 370 130.5 372.5 131.7 374.5 L135 375 L134 350 L121 305 Z" fill="#b76a3c"/>
<path d="M118 304.5 C119 315 121.5 328 124 340 C126 350 128.5 362 131.2 374 L135 375 L134 350 L121 305 Z" fill="#8a4a2a"/>
<path d="M238 302.5 C238.6 308 238.6 313 238.2 317.6 C238 323 237.6 328 237 332.4 C236.5 338 235.8 343 234.8 347.3 C233.5 353 231.8 358 229.6 362 C228 366 226.2 369.5 224.4 372.4 C223.7 373.5 223 374.5 222.2 375.4 L219 374 L222 345 L235 302 Z" fill="#b76a3c"/>
<path d="M237.8 303 C236 318 232.5 332 229.3 345 C227.3 356 224.7 366 222.2 375.4 L219 374 L222 345 L235 302 Z" fill="#8a4a2a"/>
<use href="#tooth"/>
</g>
</g>
<g fill="none" stroke="#969c9c" stroke-width="2" stroke-linecap="round">
<path d="M814 221.6 C818.5 214 828 209 839 208"/><path d="M817.2 229.6 C822 222 831 216.5 842.4 215"/>
<path d="M970 221.6 C965.5 214 956 209 945 208"/><path d="M966.8 229.6 C962 222 953 216.5 941.6 215"/>
</g>


<clipPath id="cg4"><path d="M1127 452 C1131 438 1135 424 1137.8 410.2 C1140.5 398 1143 387 1143.5 375.8 C1144 365 1141 356 1141.2 345.9 C1141.3 340 1142.5 335.5 1144.7 332.2 C1147.5 328 1152.5 326.4 1158.5 326.4 C1163 326.4 1166.3 328 1168.8 331 C1172.5 335 1175.3 340.5 1178 345.9 C1181 352 1184 357 1187.2 362 C1190 366.5 1193 370.5 1196.3 373.5 C1197 374.2 1197.8 374.5 1198.6 374.6 L1207 372 L1217 316 L1300 316 L1291 378 L1286.7 381.5 C1288.5 385 1291 387.3 1294.8 387.3 C1301 387.3 1306.5 384 1312 380.4 C1317 377 1321.5 372 1325.8 366.6 C1329 362.5 1332 358.5 1335 355.1 C1338 351.5 1341.5 349.4 1345.3 349.4 C1349.5 349.4 1353 350.5 1354.5 354 C1356.3 358 1356.3 362 1355.6 366.6 C1354.5 373.5 1351.3 380 1351 387.3 C1350.8 395 1353 402.5 1354.5 410.2 C1356 418 1357.5 425.5 1359.1 433.2 C1360.5 440 1362.5 446 1364 452 L1365 458 L1126 458 Z"/></clipPath>
<clipPath id="cb4"><rect x="1125" y="160" width="253" height="292"/></clipPath>
<g clip-path="url(#cb4)">
<g clip-path="url(#cg4)"><path d="M1127 452 C1131 438 1135 424 1137.8 410.2 C1140.5 398 1143 387 1143.5 375.8 C1144 365 1141 356 1141.2 345.9 C1141.3 340 1142.5 335.5 1144.7 332.2 C1147.5 328 1152.5 326.4 1158.5 326.4 C1163 326.4 1166.3 328 1168.8 331 C1172.5 335 1175.3 340.5 1178 345.9 C1181 352 1184 357 1187.2 362 C1190 366.5 1193 370.5 1196.3 373.5 C1197 374.2 1197.8 374.5 1198.6 374.6 L1207 372 L1217 316 L1300 316 L1291 378 L1286.7 381.5 C1288.5 385 1291 387.3 1294.8 387.3 C1301 387.3 1306.5 384 1312 380.4 C1317 377 1321.5 372 1325.8 366.6 C1329 362.5 1332 358.5 1335 355.1 C1338 351.5 1341.5 349.4 1345.3 349.4 C1349.5 349.4 1353 350.5 1354.5 354 C1356.3 358 1356.3 362 1355.6 366.6 C1354.5 373.5 1351.3 380 1351 387.3 C1350.8 395 1353 402.5 1354.5 410.2 C1356 418 1357.5 425.5 1359.1 433.2 C1360.5 440 1362.5 446 1364 452 L1365 458 L1126 458 Z" fill="url(#g4)" stroke="#de4565" stroke-width="7.5" stroke-linejoin="round"/></g>
<path d="M1146 452 C1148.5 440 1150.5 427 1152.7 414.8 C1154 407 1155 399 1156.2 391.9 C1157.3 386 1160 381.5 1164.2 381.5 C1168 381.5 1171 383 1173.4 386.1 C1176 389.5 1177.8 394 1179.1 398.8 C1181.3 406.5 1183 414 1184.9 421.7 C1186.3 427.5 1188 432 1190.6 435.5 C1193.5 438.8 1197.5 440.1 1202.1 440.1 C1207.5 440.1 1212.5 438 1215.9 433.2 C1218.5 429 1220 424 1221.6 419.4 C1223 414.5 1225 410.2 1228.5 410.2 C1232 410.2 1234 413 1235.4 417.1 C1237 422 1237.5 427 1238.8 430.9 C1240 435 1242.5 437.8 1245.7 437.8 C1249 440 1252 441 1255 441 C1259 441 1261 439.5 1263.8 437.8 C1272 434 1281 432.5 1289 428.6 C1295 425 1299 417 1302.8 410.2 C1305 406 1307 403.5 1309.7 401 C1313.5 397.5 1318 395.3 1323.5 395.3 C1329 395.3 1334 397 1337.3 401 C1340.5 405 1342.5 409.5 1344.2 414.8 C1346 421 1347.5 427 1348.8 433.2 C1350 439.5 1351.3 446 1352.5 452 Z" fill="url(#bone)"/>
<g transform="translate(1174.49,-42.2) rotate(15.04) scale(0.9924)">
<path d="M118.5 300 C117.8 302 117.8 303.5 117.9 304.6 C118.2 312 118.8 320 119.7 327.1 C120.3 335 121 343 122.1 351.2 C123 358 124.2 365 125.8 371.5 C127.3 378 129 384 131.2 389.7 C132 391.5 132.8 393.3 133.8 394.8 L137 395 L136 360 L122 300 Z" fill="#b76a3c"/>
<path d="M119 302 C120 318 123 336 126 352 C128 366 130.8 382 133.8 394.8 L137 395 L136 360 L122 300 Z" fill="#8a4a2a"/>
<path d="M238.3 305 C238.5 310 238 314.5 236.8 319 C236 325 235 330.5 233.8 336 C232.8 342 231.5 348 230.2 353.6 C229.2 359 228 364.5 226.5 369.4 C225.5 373.5 224.3 377.5 223 381.2 L219 380 L221 350 L236 304 Z" fill="#b76a3c"/>
<path d="M238 306 C235.5 320 231 335 228 350 C226.3 360 224.5 371 223 381.2 L219 380 L221 350 L236 304 Z" fill="#8a4a2a"/>
<use href="#tooth"/>
</g>
</g>
<g fill="none" stroke="#969c9c" stroke-width="2" stroke-linecap="round">
<path d="M1204.9 211.4 Q1212 200.5 1229.9 197.8"/><path d="M1208.6 218.8 Q1216 207.5 1233.2 205"/>
<path d="M1338 219.9 Q1353 223.5 1358.9 239"/><path d="M1333 226 Q1347 229 1353.8 244.9"/>
</g>

<rect x="50.2" y="160.2" width="252.5" height="488.3" fill="none" stroke="#2276a3" stroke-width="2.8"/>
<line x1="50.2" x2="302.7" y1="451.9" y2="451.9" stroke="#2276a3" stroke-width="2.1"/>
<rect x="408.6" y="160.2" width="252.5" height="488.3" fill="none" stroke="#2276a3" stroke-width="2.8"/>
<line x1="408.6" x2="661.1" y1="451.9" y2="451.9" stroke="#2276a3" stroke-width="2.1"/>
<rect x="767.2" y="160.2" width="252.5" height="488.3" fill="none" stroke="#2276a3" stroke-width="2.8"/>
<line x1="767.2" x2="1019.7" y1="451.9" y2="451.9" stroke="#2276a3" stroke-width="2.1"/>
<rect x="1125.6" y="160.2" width="252.5" height="488.3" fill="none" stroke="#2276a3" stroke-width="2.8"/>
<line x1="1125.6" x2="1378.1" y1="451.9" y2="451.9" stroke="#2276a3" stroke-width="2.1"/>
<use href="#arrow" x="0"/>
<use href="#arrow" x="358.3"/>
<use href="#arrow" x="716.6"/>
<text x="177.5" y="193.5" text-anchor="middle" font-size="26.6" class="t">健康な状態</text>
<text x="59.6" y="501" font-size="27" class="t p" textLength="234.9" lengthAdjust="spacing">歯と歯ぐきのすき間</text>
<text x="56.8" y="534" font-size="27" class="t p" textLength="235.4" lengthAdjust="spacing">（ポケット）もなく、歯ぐ</text>
<text x="58.9" y="567" font-size="27" class="t p" textLength="235.5" lengthAdjust="spacing">きがひきしまっている。</text>
<text x="535.5" y="193.5" text-anchor="middle" font-size="26.6" class="t">軽度歯周病</text>
<text x="417.3" y="501" font-size="27" class="t p" textLength="235.3" lengthAdjust="spacing">歯ぐきが赤く腫れ上</text>
<text x="417.3" y="534" font-size="27" class="t p" textLength="236.2" lengthAdjust="spacing">がり、歯を磨いたりカ</text>
<text x="417.7" y="567" font-size="27" class="t p" textLength="234.5" lengthAdjust="spacing">タいものを食べると</text>
<text x="415.3" y="600" font-size="27" class="t p" textLength="223.8" lengthAdjust="spacing">出血することもある。</text>
<text x="894.5" y="193.5" text-anchor="middle" font-size="26.6" class="t">中度歯周病</text>
<text x="774.9" y="501" font-size="27" class="t p" textLength="236.6" lengthAdjust="spacing">ポケットの炎症が慢</text>
<text x="778.3" y="534" font-size="27" class="t p" textLength="234.3" lengthAdjust="spacing">性化して、骨が溶けは</text>
<text x="774.7" y="567" font-size="27" class="t p" textLength="239.4" lengthAdjust="spacing">じめる。口臭もあり、</text>
<text x="777.3" y="600" font-size="27" class="t p" textLength="234.2" lengthAdjust="spacing">歯が浮いたような感</text>
<text x="774.7" y="633" font-size="27" class="t p" textLength="108.5" lengthAdjust="spacing">じがする。</text>
<text x="1252.5" y="193.5" text-anchor="middle" font-size="26.6" class="t">重度歯周病</text>
<text x="1135.3" y="501" font-size="27" class="t p" textLength="235.2" lengthAdjust="spacing">歯根を支えている骨</text>
<text x="1134.0" y="534" font-size="27" class="t p" textLength="238.6" lengthAdjust="spacing">がほとんど溶けてしま</text>
<text x="1135.8" y="567" font-size="27" class="t p" textLength="232.3" lengthAdjust="spacing">う。歯根が露出し歯</text>
<text x="1135.7" y="600" font-size="27" class="t p" textLength="235.9" lengthAdjust="spacing">のグラつきがひどくな</text>
<text x="1135.7" y="633" font-size="27" class="t p" textLength="35.5" lengthAdjust="spacing">る。</text>
<text x="55.8" y="365.5" font-size="25.5" class="t">歯</text>
<text x="55.8" y="397" font-size="25.5" class="t">肉</text>
<text x="96" y="433.8" font-size="24.5" class="t">骨</text>
</svg>
</body></html>
